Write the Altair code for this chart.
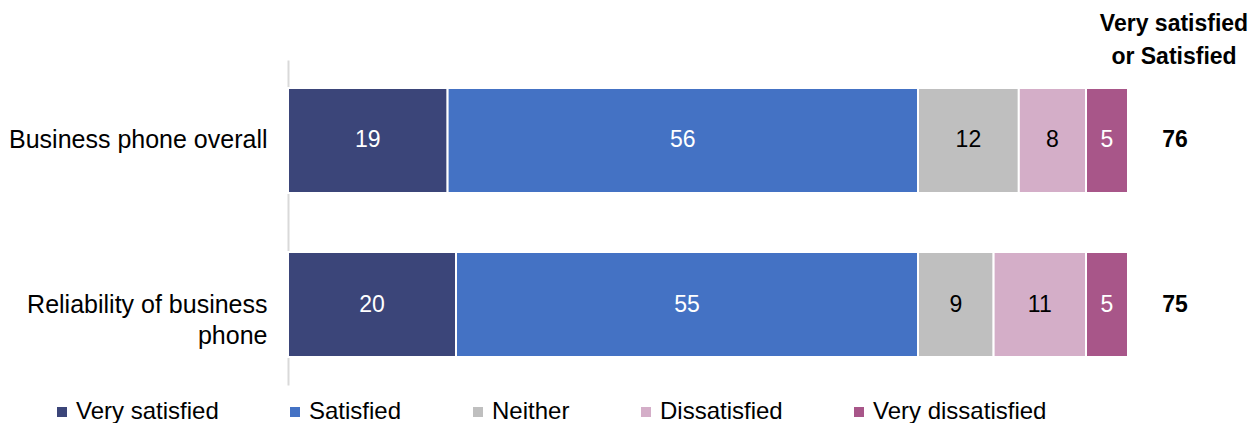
import altair as alt
import pandas as pd

items = ["Business phone overall", "Reliability of business phone"]
categories = ["Very satisfied", "Satisfied", "Neither", "Dissatisfied", "Very dissatisfied"]
very_satisfied = [19, 20]
satisfied = [56, 55]
neither = [12, 9]
dissatisfied = [8, 11]
very_dissatisfied = [5, 5]
net_satisfied = [76, 75]
net_header = "Very satisfied\nor Satisfied"

colors = ["#3B4579", "#4472C4", "#BFBFBF", "#D4AEC8", "#A85689"]
FONT = "Liberation Sans"

series = [very_satisfied, satisfied, neither, dissatisfied, very_dissatisfied]
rows = []
for ci, (cat, vals) in enumerate(zip(categories, series)):
    for item, v in zip(items, vals):
        rows.append({"item": item, "cat": cat, "order": ci, "value": v})
df = pd.DataFrame(rows)
tot = pd.DataFrame({"item": items, "net": net_satisfied})
hdr = pd.DataFrame({"t": [net_header]})

yenc = alt.Y(
    "item:N",
    sort=items,
    title=None,
    scale=alt.Scale(paddingInner=0.36, paddingOuter=0.17),
    axis=alt.Axis(
        domain=True, domainColor="#D9D9D9", domainWidth=2, ticks=False,
        labelFont=FONT, labelFontSize=25, labelColor="#000000", labelPadding=21,
        labelLimit=400, labelLineHeight=31,
        labelExpr="datum.value == 'Reliability of business phone' ? ['Reliability of business', 'phone'] : datum.value",
    ),
)

base = alt.Chart(df).transform_stack(
    stack="value", as_=["x0", "x1"], groupby=["item"], sort=[alt.SortField("order")]
)

bars = base.mark_bar(stroke="white", strokeWidth=2).encode(
    x=alt.X("x0:Q", scale=alt.Scale(domain=[0, 100], nice=False), axis=None),
    x2="x1:Q",
    y=yenc,
    color=alt.Color(
        "cat:N",
        sort=categories,
        scale=alt.Scale(domain=categories, range=colors),
        legend=alt.Legend(
            title=None, orient="none", direction="horizontal",
            legendX=-238, legendY=340, padding=0,
            symbolType="square", symbolSize=100, symbolStrokeWidth=0,
            labelFont=FONT, labelFontSize=24, labelColor="#000000",
            labelOffset=2, columnPadding=64, labelLimit=300,
        ),
    ),
    order=alt.Order("order:Q"),
)

labels = base.transform_calculate(mid="(datum.x0 + datum.x1) / 2").mark_text(
    font=FONT, fontSize=23, baseline="middle", align="center"
).encode(
    x=alt.X("mid:Q", scale=alt.Scale(domain=[0, 100], nice=False), axis=None),
    y=alt.Y("item:N", sort=items),
    text="value:Q",
    color=alt.condition(
        "datum.cat == 'Neither' || datum.cat == 'Dissatisfied'",
        alt.value("#000000"), alt.value("#FFFFFF"),
    ),
)

totals = alt.Chart(tot).mark_text(
    font=FONT, fontSize=23, fontWeight="bold", baseline="middle", align="center", color="#000000"
).encode(
    x=alt.value(887),
    y=alt.Y("item:N", sort=items),
    text="net:Q",
)

header = alt.Chart(hdr).mark_text(
    font=FONT, fontSize=23, fontWeight="bold", baseline="top", align="center",
    color="#000000", lineBreak="\n", lineHeight=33,
).encode(
    x=alt.value(886),
    y=alt.value(-47),
    text="t:N",
)

chart = alt.layer(bars, labels, totals, header).properties(
    width=840, height=325,
    autosize=alt.AutoSizeParams(type="none"),
    padding={"left": 280, "top": 52, "right": 123, "bottom": 38},
).configure_view(stroke=None)

chart.save("out.html", embed_options={"renderer": "svg", "actions": False})
